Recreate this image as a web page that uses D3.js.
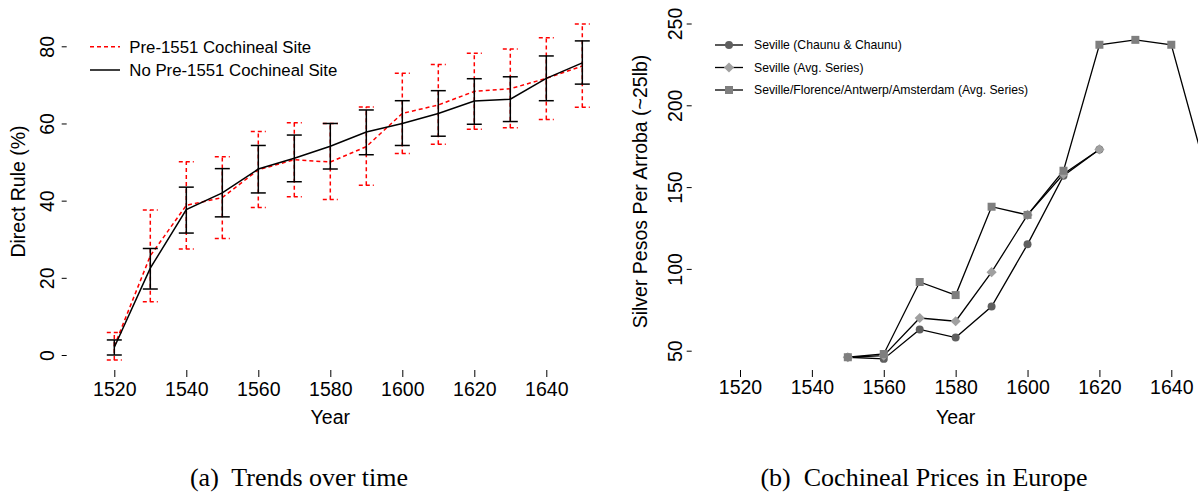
<!DOCTYPE html>
<html>
<head>
<meta charset="utf-8">
<script src="https://cdn.jsdelivr.net/npm/d3@7"></script>
<style>
  body { margin: 0; background: #fff; }
  svg { display: block; font-family: "Liberation Sans", Arial, sans-serif; }
  .caption { font-family: "Liberation Serif", "Times New Roman", serif; }
</style>
</head>
<body>
<div id="viz"></div>
<script>
// panel (a): direct rule by decade
const years = [1520, 1530, 1540, 1550, 1560, 1570, 1580, 1590, 1600, 1610, 1620, 1630, 1640, 1650];
const preMean = [2.3, 25.7, 38.8, 40.8, 48, 50.6, 50, 54, 62.6, 64.8, 68.3, 69, 71.7, 74.9];
const preLo   = [-1.3, 13.8, 27.5, 30.2, 38.2, 41, 40.3, 44, 52.2, 54.6, 58.5, 58.9, 61, 64.2];
const preHi   = [5.8, 37.6, 50.1, 51.4, 57.9, 60.2, 60, 64.3, 73, 75.3, 78.2, 79.3, 82.2, 85.8];
const noMean  = [2, 22.5, 37.7, 42, 48.2, 51, 54.1, 57.8, 60, 62.6, 65.8, 66.3, 71.7, 75.7];
const noLo    = [0, 17.1, 31.6, 35.8, 42, 44.9, 48.2, 51.9, 54.3, 56.7, 59.8, 60.5, 65.9, 70.2];
const noHi    = [3.9, 27.6, 43.5, 48.3, 54.3, 57, 60, 63.5, 65.9, 68.5, 71.6, 72.1, 77.5, 81.4];
const yearTicks = [1520, 1540, 1560, 1580, 1600, 1620, 1640];
const ruleTicks = [0, 20, 40, 60, 80];
const legendA = ['Pre-1551 Cochineal Site', 'No Pre-1551 Cochineal Site'];

// panel (b): cochineal prices
const priceYears = [1550, 1560, 1570, 1580, 1590, 1600, 1610, 1620, 1630, 1640, 1650];
const chaunu     = [46, 45, 63, 58, 77, 115, 157, 173];
const sevilleAvg = [46, 47, 70, 68, 98, 133, 158, 173];
const multiCity  = [46, 48, 92, 84, 138, 133, 160, 237, 240, 237, 157];
const priceTicks = [50, 100, 150, 200, 250];
const legendB = ['Seville (Chaunu & Chaunu)', 'Seville (Avg. Series)', 'Seville/Florence/Antwerp/Amsterdam (Avg. Series)'];

const width = 1198, height = 494;
const svg = d3.select('#viz').append('svg')
    .attr('width', width)
    .attr('height', height);

function styleAxis(g, rotate, offset) {
    g.select('.domain').remove();
    g.selectAll('.tick line').attr('stroke', '#000');
    g.selectAll('text').attr('fill', '#000').style('font-size', '19.5px');
    if (rotate) {
        g.selectAll('text')
         .attr('transform', 'rotate(-90)')
         .attr('x', 0)
         .attr('y', -offset)
         .attr('dy', 0)
         .attr('text-anchor', 'middle');
    }
}

// ---------- panel (a) ----------
const xA = d3.scaleLinear().domain([1520, 1640]).range([114.3, 546.3]);
const yA = d3.scaleLinear().domain([0, 80]).range([355, 46.3]);

svg.append('g')
   .attr('transform', 'translate(0,370)')
   .call(d3.axisBottom(xA).tickValues(yearTicks).tickSize(7).tickPadding(5).tickFormat(d3.format('d')))
   .call(g => styleAxis(g, false));
svg.append('g')
   .attr('transform', 'translate(66.7,0)')
   .call(d3.axisLeft(yA).tickValues(ruleTicks).tickSize(5))
   .call(g => styleAxis(g, true, 12.7));

svg.append('text').attr('x', xA(1580)).attr('y', 424)
   .attr('text-anchor', 'middle').style('font-size', '19.5px').text('Year');
svg.append('text').attr('transform', 'translate(25,191.5) rotate(-90)')
   .attr('text-anchor', 'middle').style('font-size', '19.5px').text('Direct Rule (%)');

function errorBars(lo, hi, color, dash) {
    const g = svg.append('g')
        .attr('stroke', color)
        .attr('stroke-width', 1.5)
        .attr('stroke-dasharray', dash);
    years.forEach((yr, i) => {
        const x = xA(yr);
        g.append('line').attr('x1', x).attr('x2', x).attr('y1', yA(lo[i])).attr('y2', yA(hi[i]));
        g.append('line').attr('x1', x - 7.5).attr('x2', x + 7.5).attr('y1', yA(lo[i])).attr('y2', yA(lo[i]));
        g.append('line').attr('x1', x - 7.5).attr('x2', x + 7.5).attr('y1', yA(hi[i])).attr('y2', yA(hi[i]));
    });
}

const lineA = d3.line().x((d, i) => xA(years[i])).y(d => yA(d));

errorBars(preLo, preHi, '#ff0000', '4,3');
svg.append('path').datum(preMean)
   .attr('d', lineA).attr('fill', 'none')
   .attr('stroke', '#ff0000').attr('stroke-width', 1.5).attr('stroke-dasharray', '4,3');
errorBars(noLo, noHi, '#000', null);
svg.append('path').datum(noMean)
   .attr('d', lineA).attr('fill', 'none')
   .attr('stroke', '#000').attr('stroke-width', 1.5);

const legA = svg.append('g');
legendA.forEach((t, i) => {
    const y = 46.7 + i * 23.3;
    legA.append('line').attr('x1', 90).attr('x2', 120).attr('y1', y).attr('y2', y)
        .attr('stroke', i === 0 ? '#ff0000' : '#000')
        .attr('stroke-width', 1.5)
        .attr('stroke-dasharray', i === 0 ? '4,3' : null);
    legA.append('text').attr('x', 129.3).attr('y', y).attr('dy', '0.36em')
        .style('font-size', '16.8px').text(t);
});

// ---------- panel (b) ----------
const xB = d3.scaleLinear().domain([1520, 1640]).range([740, 1171.3]);
const yB = d3.scaleLinear().domain([50, 250]).range([350.7, 23.5]);

svg.append('g')
   .attr('transform', 'translate(0,370)')
   .call(d3.axisBottom(xB).tickValues(yearTicks).tickSize(7).tickPadding(3).tickFormat(d3.format('d')))
   .call(g => styleAxis(g, false));
svg.append('g')
   .attr('transform', 'translate(691.7,0)')
   .call(d3.axisLeft(yB).tickValues(priceTicks).tickSize(5))
   .call(g => styleAxis(g, true, 10));

svg.append('text').attr('x', xB(1580)).attr('y', 424)
   .attr('text-anchor', 'middle').style('font-size', '19.5px').text('Year');
svg.append('text').attr('transform', 'translate(647,191.5) rotate(-90)')
   .attr('text-anchor', 'middle').style('font-size', '19.5px').text('Silver Pesos Per Arroba (~25lb)');

const lineB = d3.line().x((d, i) => xB(priceYears[i])).y(d => yB(d));
// diamonds are squares turned 45 degrees
const seriesB = [
    { values: chaunu, color: '#5f5f5f', shape: d3.symbolCircle, size: 50, rot: 0 },
    { values: sevilleAvg, color: '#a0a0a0', shape: d3.symbolSquare, size: 52, rot: 45 },
    { values: multiCity, color: '#7f7f7f', shape: d3.symbolSquare, size: 64, rot: 0 }
];

seriesB.forEach(s => {
    svg.append('path').datum(s.values)
       .attr('d', lineB).attr('fill', 'none')
       .attr('stroke', '#000').attr('stroke-width', 1.3);
});
seriesB.forEach(s => {
    svg.append('g').selectAll('path')
       .data(s.values)
       .enter()
       .append('path')
       .attr('d', d3.symbol().type(s.shape).size(s.size))
       .attr('transform', (d, i) => 'translate(' + xB(priceYears[i]) + ',' + yB(d) + ') rotate(' + s.rot + ')')
       .attr('fill', s.color);
});

const legB = svg.append('g');
legendB.forEach((t, i) => {
    const y = 45 + i * 22.5;
    const s = seriesB[i];
    legB.append('line').attr('x1', 715).attr('x2', 743).attr('y1', y).attr('y2', y)
        .attr('stroke', '#000').attr('stroke-width', 1.3);
    legB.append('path')
        .attr('d', d3.symbol().type(s.shape).size(s.size))
        .attr('transform', 'translate(729,' + y + ') rotate(' + s.rot + ')')
        .attr('fill', s.color);
    legB.append('text').attr('x', 754).attr('y', y).attr('dy', '0.36em')
        .style('font-size', '12.2px').text(t);
});

// captions
svg.append('text').attr('class', 'caption').attr('x', 299).attr('y', 486)
   .attr('text-anchor', 'middle').style('font-size', '26px')
   .attr('xml:space', 'preserve').text('(a)  Trends over time');
svg.append('text').attr('class', 'caption').attr('x', 924).attr('y', 486)
   .attr('text-anchor', 'middle').style('font-size', '26px')
   .attr('xml:space', 'preserve').text('(b)  Cochineal Prices in Europe');
</script>
</body>
</html>
